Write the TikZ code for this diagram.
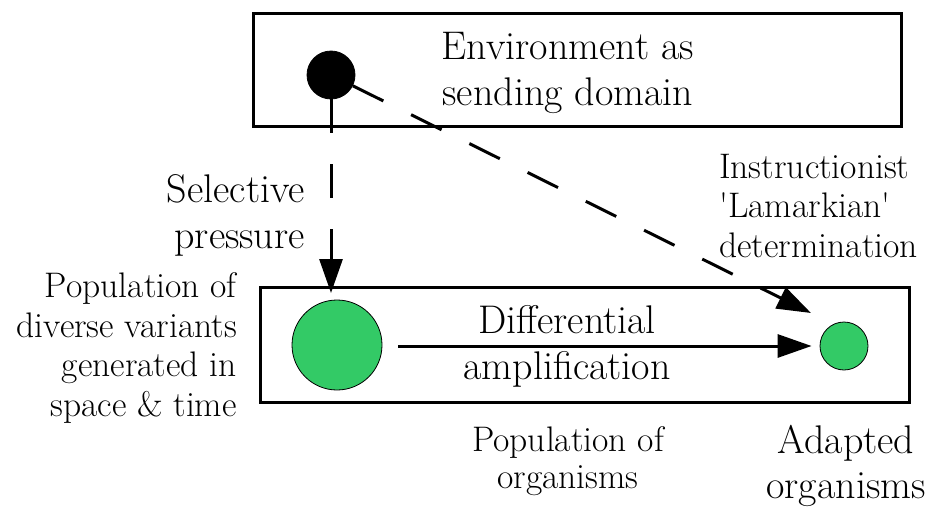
\documentclass[tikz,border=0pt]{standalone}
\usepackage{fontspec}
\usetikzlibrary{arrows.meta}
\definecolor{leaf}{RGB}{51,202,102}
\tikzset{
  frame/.style={draw=black, line width=3pt},
  dot/.style={circle, draw=black, line width=0.8pt, inner sep=0pt},
  bigtxt/.style={inner sep=0pt, font=\fontsize{40}{46}\selectfont},
  smalltxt/.style={inner sep=0pt, font=\fontsize{35.5}{39.5}\selectfont},
  conn/.style={line width=3pt, -{Triangle[length=34pt,width=23pt]}},
  dashconn/.style={conn, dash pattern=on 34pt off 31pt}
}
\begin{document}
\begin{tikzpicture}[x=1pt,y=-1pt]
\useasboundingbox (0,0) rectangle (937,506);
\fill[white] (0,0) rectangle (937,506);
% boxes
\draw[frame] (253,13) rectangle (901,126);
\draw[frame] (260,287) rectangle (909,402);
% circles
\node[dot, fill=black, minimum size=48pt] (env) at (331,75) {};
\node[dot, fill=leaf, minimum size=90pt] (pop) at (337,345) {};
\node[dot, fill=leaf, minimum size=48pt] (adp) at (844,346) {};
\coordinate (lamtip) at (811,313);
\coordinate (seltip) at (331,293);
% connectors
\draw[dashconn] (env) -- (seltip);
\draw[dashconn] (env) -- (lamtip);
\draw[conn, shorten <=16pt, shorten >=8pt] (pop.east |- adp) -- (adp);
% texts
\node[bigtxt, align=center] (envlbl) at (568,72.5) {Environment as\\sending domain};
\node[bigtxt, align=right, anchor=east] (sellbl) at (305,215) {Selective\\pressure};
\node[smalltxt, align=right, anchor=east] (poplbl) at (237,348) {Population of\\diverse variants\\generated in\\space \& time};
\node[smalltxt, align=left, anchor=west] (lamlbl) at (719,206) {Instructionist\\\textquotesingle Lamarkian\textquotesingle\\determination};
\node[bigtxt, align=center] (difflbl) at (567,346) {Differential\\amplification};
\node[smalltxt, align=center, font=\fontsize{35.5}{37}\selectfont] (orglbl) at (568,461) {Population of\\organisms};
\node[bigtxt, align=center, font=\fontsize{40}{45}\selectfont] (adplbl) at (846,466) {Adapted\\organisms};
\end{tikzpicture}
\end{document}
